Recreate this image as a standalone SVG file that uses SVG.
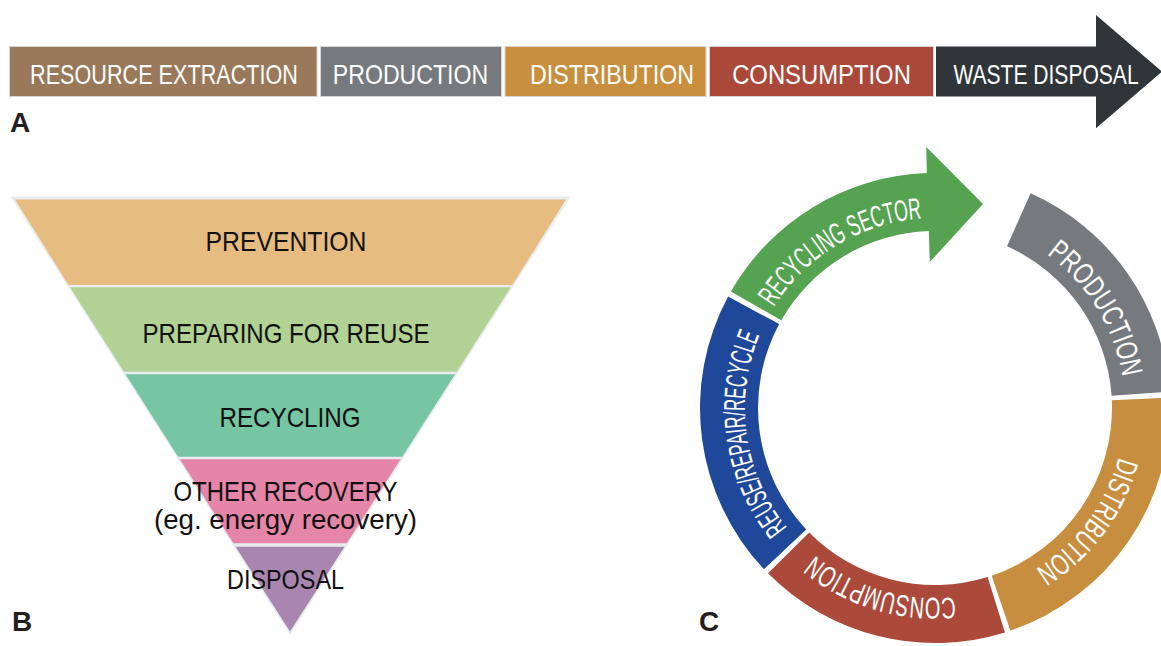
<svg xmlns="http://www.w3.org/2000/svg" width="1161" height="646" viewBox="0 0 1161 646">
<style>
.bar{stroke:#d9d6d2;stroke-width:1}
.bt{font-family:"Liberation Sans",Arial,sans-serif;font-size:27px;fill:#ffffff;text-anchor:middle}
.tt{font-family:"Liberation Sans",Arial,sans-serif;font-size:28px;fill:#111111;text-anchor:middle}
.rt{font-family:"Liberation Sans",Arial,sans-serif;font-size:30px;fill:#ffffff}
.lbl{font-family:"Liberation Sans",Arial,sans-serif;font-size:28px;font-weight:bold;fill:#231f20}
</style>
<defs>
<path id="pRecSec" d="M 773.9 307.3 A 190 190 0 0 1 921.7 218.5"/>
<path id="pProd" d="M 1046.7 254.3 A 190 190 0 0 1 1122.4 376.6"/>
<path id="pDist" d="M 1118.5 457.2 A 190 190 0 0 1 1035.7 569.1"/>
<path id="pCons" d="M 954.9 597.0 A 190 190 0 0 1 814.7 555.0"/>
<path id="pReuse" d="M 787.3 527.6 A 190 190 0 0 1 759.3 335.6"/>
</defs>
<rect width="1161" height="646" fill="#ffffff"/>

<!-- Panel A -->
<g id="a-resource-extraction">
<rect class="bar" x="9.5" y="46.5" width="307.5" height="50" fill="#9a795b"/>
<text class="bt" transform="translate(164 83.5) scale(0.801 1)">RESOURCE EXTRACTION</text>
</g>
<g id="a-production">
<rect class="bar" x="320.5" y="46.5" width="181" height="50" fill="#767a7e"/>
<text class="bt" transform="translate(410.5 83.5) scale(0.856 1)">PRODUCTION</text>
</g>
<g id="a-distribution">
<rect class="bar" x="505" y="46.5" width="201" height="50" fill="#c88f3e"/>
<text class="bt" transform="translate(612 83.5) scale(0.861 1)">DISTRIBUTION</text>
</g>
<g id="a-consumption">
<rect class="bar" x="709.5" y="46.5" width="224" height="50" fill="#aa493a"/>
<text class="bt" transform="translate(821.5 83.5) scale(0.883 1)">CONSUMPTION</text>
</g>
<g id="a-waste-disposal">
<polygon points="936,46.5 1096,46.5 1096,15 1162,71.7 1096,128.3 1096,96.5 936,96.5" fill="#30353a"/>
<text class="bt" transform="translate(1046 83.5) scale(0.78 1)">WASTE DISPOSAL</text>
</g>
<text class="lbl" x="10" y="131.5">A</text>

<!-- Panel B -->
<g id="b-frame">
<polygon points="10.5,196.5 571,196.5 290,635" fill="#e9ecef"/>
</g>
<g id="b-prevention">
<polygon points="15,199.5 566,199.5 512.3,285 68.5,285" fill="#e6bc81"/>
<text class="tt" x="286" y="250.5" textLength="161" lengthAdjust="spacingAndGlyphs">PREVENTION</text>
</g>
<g id="b-preparing">
<polygon points="70,287.3 510.8,287.3 456.7,371.7 123.9,371.7" fill="#b2d295"/>
<text class="tt" x="286" y="343" textLength="287" lengthAdjust="spacingAndGlyphs">PREPARING FOR REUSE</text>
</g>
<g id="b-recycling">
<polygon points="125.5,374.3 455.1,374.3 402.3,456.7 178.1,456.7" fill="#76c6a3"/>
<text class="tt" x="290" y="427" textLength="141" lengthAdjust="spacingAndGlyphs">RECYCLING</text>
</g>
<g id="b-other-recovery">
<polygon points="179.8,459.3 400.6,459.3 346.8,543.3 233.4,543.3" fill="#e586a8"/>
<text class="tt" x="285.5" y="500.5" font-size="27" textLength="224" lengthAdjust="spacingAndGlyphs">OTHER RECOVERY</text>
<text class="tt" x="285.5" y="529" font-size="27" textLength="263" lengthAdjust="spacingAndGlyphs">(eg. energy recovery)</text>
</g>
<g id="b-disposal">
<polygon points="235.6,546.7 344.6,546.7 290,631.5" fill="#a886b0"/>
<text class="tt" x="285.5" y="588.5" textLength="117" lengthAdjust="spacingAndGlyphs">DISPOSAL</text>
</g>
<text class="lbl" x="12" y="631">B</text>

<!-- Panel C -->
<g id="c-recycling-sector">
<path d="M 730.9 291.6 A 235 235 0 0 1 926.8 173.1 L 926.3 147 L 983 204 L 929.8 262 L 928.8 231.1 A 177 177 0 0 0 781.3 320.3 Z" fill="#55a350"/>
<text class="rt"><textPath href="#pRecSec" textLength="179" lengthAdjust="spacingAndGlyphs">RECYCLING SECTOR</textPath></text>
</g>
<g id="c-production">
<path d="M 1030.6 193.3 A 235 235 0 0 1 1169.4 391.6 L 1111.6 395.7 A 177 177 0 0 0 1007.0 246.3 Z" fill="#767a7e"/>
<text class="rt"><textPath href="#pProd" textLength="148" lengthAdjust="spacingAndGlyphs">PRODUCTION</textPath></text>
</g>
<g id="c-distribution">
<path d="M 1169.8 397.7 A 235 235 0 0 1 1010.3 630.6 L 991.7 575.7 A 177 177 0 0 0 1111.8 400.3 Z" fill="#c78e3f"/>
<text class="rt"><textPath href="#pDist" textLength="143" lengthAdjust="spacingAndGlyphs">DISTRIBUTION</textPath></text>
</g>
<g id="c-consumption">
<path d="M 1004.9 632.4 A 235 235 0 0 1 768.0 573.3 L 809.2 532.5 A 177 177 0 0 0 987.6 577.0 Z" fill="#ab4a3b"/>
<text class="rt"><textPath href="#pCons" textLength="150" lengthAdjust="spacingAndGlyphs">CONSUMPTION</textPath></text>
</g>
<g id="c-reuse">
<path d="M 763.97 569.2 A 235 235 0 0 1 728.1 296.6 L 779.2 324.1 A 177 177 0 0 0 806.2 529.4 Z" fill="#1f489b"/>
<text class="rt"><textPath href="#pReuse" textLength="204" lengthAdjust="spacingAndGlyphs">REUSE/REPAIR/RECYCLE</textPath></text>
</g>
<text class="lbl" x="699" y="631">C</text>
<g id="connectors"/>
</svg>
